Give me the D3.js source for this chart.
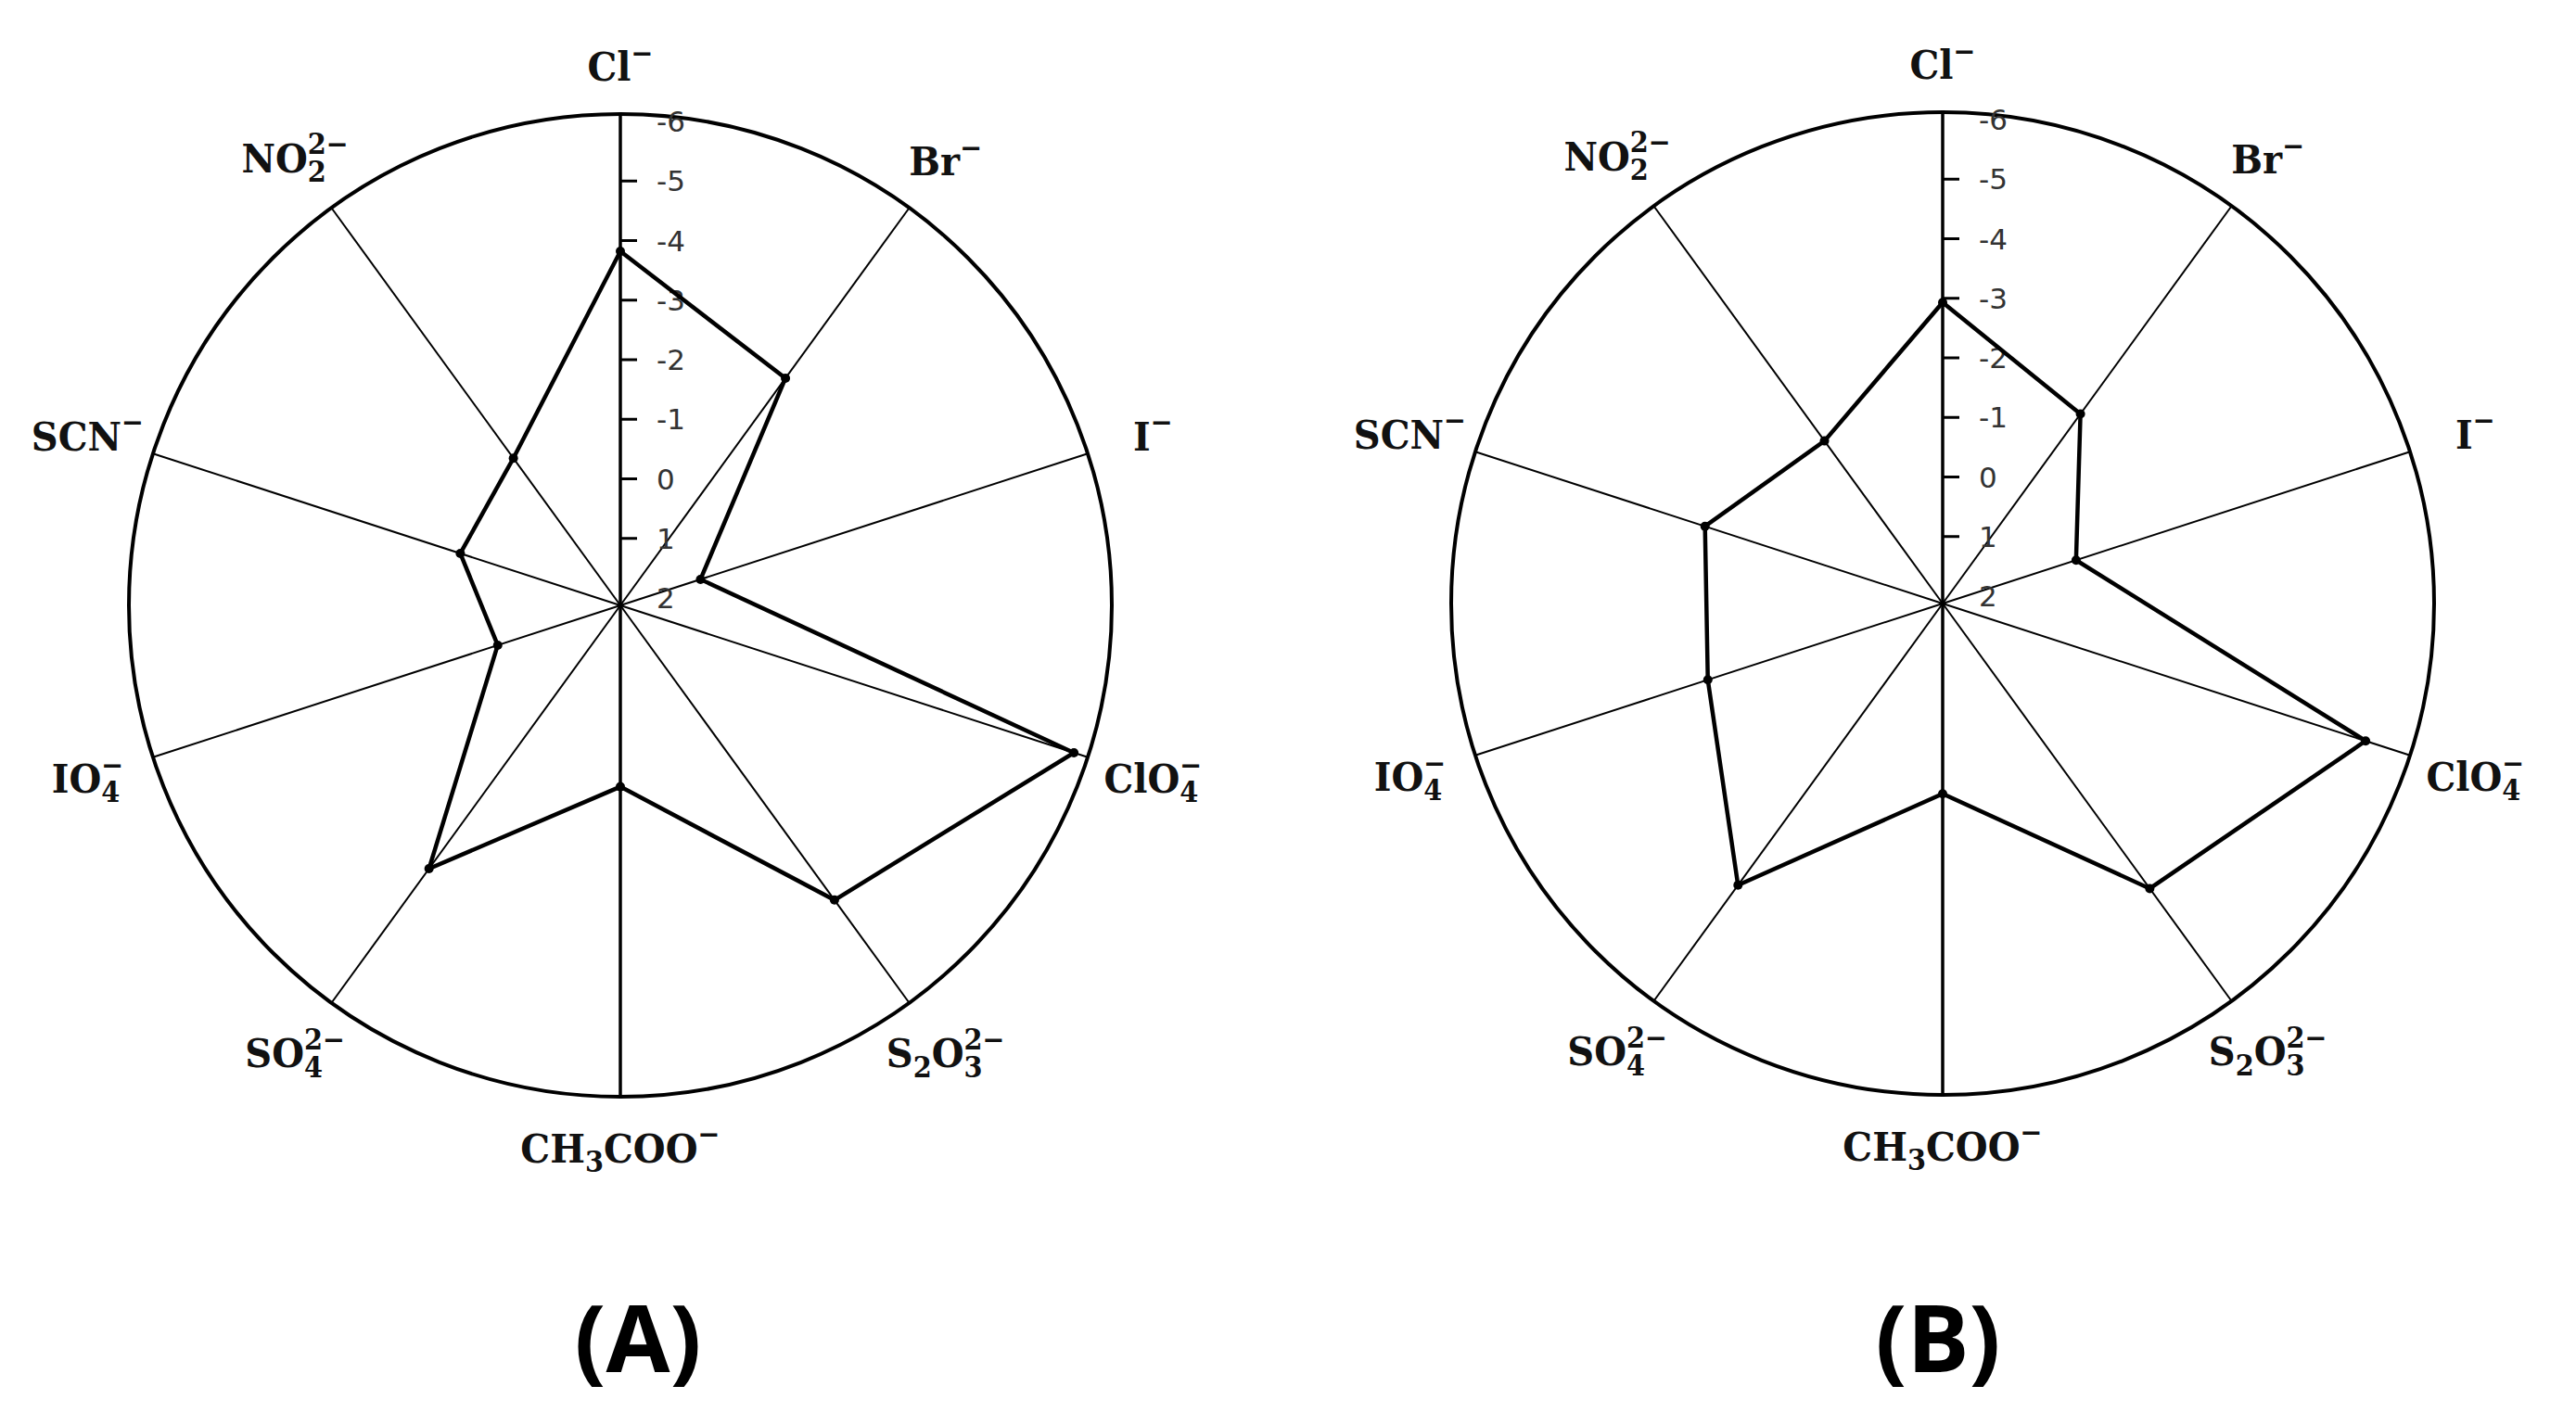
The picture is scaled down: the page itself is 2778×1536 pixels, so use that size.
<!DOCTYPE html>
<html>
<head>
<meta charset="utf-8">
<script src="https://cdn.jsdelivr.net/npm/d3@7"></script>
<style>
  body { margin: 0; background: #fff; }
  .ring { fill: none; stroke: #000; stroke-width: 4; }
  .spoke { stroke: #000; stroke-width: 2; }
  .spoke.main { stroke-width: 3.5; }
  .tick { stroke: #000; stroke-width: 3; }
  .tick-label { font-family: "DejaVu Sans", sans-serif; font-size: 31px; fill: #333; }
  .series { fill: none; stroke: #000; stroke-width: 4.5; stroke-linejoin: miter; }
  .dot { fill: #000; }
  .cat { font-family: "DejaVu Serif", serif; font-weight: bold; fill: #111; }
  .panel-title { font-family: "Open Sans", sans-serif; font-weight: bold; font-size: 100px; fill: #000; }
</style>
</head>
<body>
<svg id="chart"></svg>
<script>
// anion names, _{} = subscript, ^{} = superscript (stacked when they follow each other)
var anions = ["Cl^{−}", "Br^{−}", "I^{−}", "ClO_{4}^{−}", "S_{2}O_{3}^{2−}",
  "CH_{3}COO^{−}", "SO_{4}^{2−}", "IO_{4}^{−}", "SCN^{−}", "NO_{2}^{2−}"];
var valuesA = [-3.82, -2.59, 0.71, -5.88, -3.99, -0.92, -3.34, -0.04, -0.70, -0.93];
var valuesB = [-2.93, -1.81, -0.23, -5.34, -3.79, -1.07, -3.72, -2.02, -2.07, -1.25];
var tickValues = [-6, -5, -4, -3, -2, -1, 0, 1, 2];
var panelTitles = ["(A)", "(B)"];

var Radar = Radar || {};

Radar = (function(){

  var that = {},
    width = 2778,
    height = 1536,
    radius = 530,
    labelSize = 43,
    squeeze = 0.93,
    centers = [[669, 653], [2095, 651]],
    titleX = [688, 2090],
    svg,
    angle = d3.scaleLinear().domain([0, anions.length]).range([0, 2 * Math.PI]),
    r = d3.scaleLinear().domain([2, -6]).range([8, 522]);

  function init(){
    svg = d3.select("#chart")
      .attr("width", width)
      .attr("height", height);

    svg.append("rect")
      .attr("width", width)
      .attr("height", height)
      .attr("fill", "#fff");

    drawPanel(0, valuesA);
    drawPanel(1, valuesB);
  }

  function drawPanel(i, values){
    var g = svg.append("g")
      .attr("transform", "translate(" + centers[i][0] + "," + centers[i][1] + ")");

    g.append("circle")
      .attr("class", "ring")
      .attr("r", radius);

    g.selectAll(".spoke")
      .data(anions).enter()
      .append("line")
      .attr("class", function(d, k){ return (k % 5 == 0) ? "spoke main" : "spoke" })
      .attr("x2", function(d, k){ return d3.pointRadial(angle(k), radius)[0] })
      .attr("y2", function(d, k){ return d3.pointRadial(angle(k), radius)[1] });

    //value axis along the first spoke
    g.selectAll(".tick")
      .data(tickValues.filter(function(v){ return v > -6 && v < 2 })).enter()
      .append("line")
      .attr("class", "tick")
      .attr("x1", 0)
      .attr("x2", 18)
      .attr("y1", function(v){ return -r(v) })
      .attr("y2", function(v){ return -r(v) });

    g.selectAll(".tick-label")
      .data(tickValues).enter()
      .append("text")
      .attr("class", "tick-label")
      .attr("x", 39)
      .attr("y", function(v){ return -r(v) })
      .attr("dominant-baseline", "central")
      .text(function(v){ return v });

    var line = d3.lineRadial()
      .angle(function(d, k){ return angle(k) })
      .radius(function(d){ return r(d) })
      .curve(d3.curveLinearClosed);

    g.append("path")
      .attr("class", "series")
      .attr("d", line(values));

    g.selectAll(".dot")
      .data(values).enter()
      .append("circle")
      .attr("class", "dot")
      .attr("r", 5)
      .attr("cx", function(d, k){ return d3.pointRadial(angle(k), r(d))[0] })
      .attr("cy", function(d, k){ return d3.pointRadial(angle(k), r(d))[1] });

    anions.forEach(function(name, k){
      var a = angle(k),
        lr = radius + 55 + 20 * Math.abs(Math.sin(a)),
        p = d3.pointRadial(a, lr);
      drawLabel(g, name, p[0], p[1]);
    });

    svg.append("text")
      .attr("class", "panel-title")
      .attr("x", titleX[i])
      .attr("y", 1480)
      .attr("text-anchor", "middle")
      .text(panelTitles[i]);
  }

  function parseLabel(str){
    var re = /([_^])\{([^}]*)\}|([^_^]+)/g, m, out = [];
    while ((m = re.exec(str)) !== null) {
      if (m[3]) out.push({type: "n", text: m[3]});
      else out.push({type: m[1] == "_" ? "sub" : "sup", text: m[2]});
    }
    return out;
  }

  function drawLabel(g, str, x, y){
    var t = g.append("text")
      .attr("class", "cat")
      .attr("font-size", labelSize),
      shift = 0,
      lastSub = null;

    parseLabel(str).forEach(function(tok){
      var target = tok.type == "sub" ? 0.24 * labelSize : (tok.type == "sup" ? -0.45 * labelSize : 0);
      var ts = t.append("tspan")
        .attr("dy", target - shift)
        .text(tok.text);
      shift = target;
      if (tok.type != "n") ts.attr("font-size", labelSize * 0.72);
      if (tok.type == "sup" && lastSub) {
        ts.attr("dx", -lastSub.node().getComputedTextLength());
      }
      lastSub = tok.type == "sub" ? ts : null;
    });

    var bb = t.node().getBBox();
    t.attr("transform", "translate(" + x + "," + y + ") scale(" + squeeze + ",1) translate(" +
      (-bb.x - bb.width / 2) + "," + (-bb.y - bb.height / 2) + ")");
  }

  that.init = init;
  return that;
})();

Radar.init();
</script>
</body>
</html>
